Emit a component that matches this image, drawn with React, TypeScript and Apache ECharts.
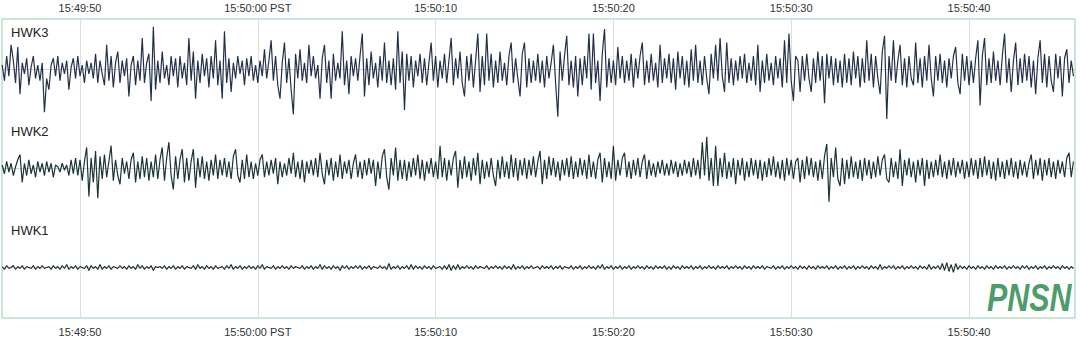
import React, { useEffect, useRef } from "react";
import * as echarts from "echarts";

// Time axis (seconds after 15:49:00 PST)
const T_MIN = 45.613;
const T_MAX = 105.962;
const T0 = 45.625;
const DT = 0.125;
const TICK_VALUES = [50, 60, 70, 80, 90, 100];
const TICK_LABELS = ["15:49:50", "15:50:00 PST", "15:50:10", "15:50:20", "15:50:30", "15:50:40"];

const STATIONS = ["HWK3", "HWK2", "HWK1"];

// HWK3 amplitudes (arbitrary counts)
const HWK3 = [
  10, -25, 30, -15, 55, 20, -30, 50, -55, 15, -10, 25, -35, 5, 30, -20, 10, -25, 15, -95,
  -20, -45, 10, 25, -15, 30, -25, 15, -10, 20, -45, 5, 25, -20, 30, -15, 10, -30, 20, -10,
  15, -20, 35, -30, 20, -10, -35, 55, -25, 30, -40, 15, 40, -30, 20, -15, 25, -60, 10, 30,
  -35, 20, -25, 70, -30, 15, 35, -70, 95, -45, 20, -30, 40, -20, 10, -35, 30, -15, 25, -40,
  30, -20, 15, -35, 70, -25, 40, -65, 20, -30, 35, -15, 25, -40, 30, -20, 65, -35, 20, -65,
  85, -30, 25, -50, 15, -20, 30, -10, 20, -35, 25, -15, 30, -25, 10, -30, 20, -15, 45, -20,
  20, 65, -25, 30, -35, -65, 15, 60, -30, 25, -45, -100, 35, -20, 45, -25, 15, -30, 55, -15,
  30, -20, 10, -65, 25, 55, -30, 20, -65, 35, -25, 15, -20, 85, -35, 20, -55, 30, -15, 25,
  -25, 30, 80, -60, 25, -35, 40, -20, 15, -40, 30, -25, 60, -30, 20, -35, 25, -45, 85, -30,
  40, -90, 35, -25, 30, -40, 20, -15, 35, -30, 25, -35, 15, 60, -25, 30, -40, 20, -20, 35,
  -30, 20, 70, -35, 25, -20, 40, -30, -60, 30, -25, 35, -40, 20, 80, -50, 30, -35, 80, -25,
  35, -40, 20, -30, 40, -25, 15, -35, 30, 60, -30, 25, -20, -60, 35, 60, -40, 25, -30, 20,
  -25, 35, -30, 20, -40, 30, -20, 15, 55, -30, -105, 40, -25, 30, 75, -35, 20, -40, 30, -60,
  25, -35, 30, -20, 80, -45, 80, -30, 20, -70, 35, 90, -40, 25, -30, 20, -35, 50, -20, 30,
  -30, 20, -25, 35, -40, 25, -20, 30, 60, -35, 20, -30, 35, -25, 15, -40, 55, -30, 25, -20,
  35, -30, 25, -45, 40, -20, 30, -35, 20, -40, 45, -25, 55, -30, 20, -35, 30, -20, -55, 35,
  -20, 55, -25, 70, -15, -50, 60, -30, 25, -35, 20, -25, 30, -20, 35, -30, 15, -25, 30, -35,
  55, -50, 20, -30, 35, -25, 15, -35, 30, -20, 25, -40, 65, -30, 80, -25, -70, 30, 20, -50,
  30, -25, 35, -20, -50, 25, -30, 40, -25, 30, -75, 35, -20, 30, -35, 25, -30, 20, -40, 35,
  -30, 25, -35, 40, -20, 30, -40, 25, -30, 65, -25, 35, -40, 30, -20, -55, 40, 75, -110, 30,
  -25, 65, -30, 20, 55, -35, 25, -40, 30, -20, -35, 60, -30, 25, -40, 30, -25, 55, -20, -60,
  30, -25, 35, -30, 20, -40, 25, -20, 30, 50, -30, -55, 35, -25, 30, -35, 20, -30, 25, 65,
  -80, 30, 70, -35, 25, -30, 40, -25, 20, -35, 30, 80, -30, 25, -50, 20, 60, -35, 25, -30,
  35, -25, 30, -40, 20, -55, 25, 65, -30, 35, -40, 30, -25, -50, 35, -20, 30, -60, 25, 45,
  -30, 20, -15,
];

// HWK2 amplitudes (arbitrary counts)
const HWK2 = [
  10, -15, 20, -10, 15, -20, 5, 25, 40, -40, 15, -20, 25, -15, 10, -25, 20, -10, 15, -20,
  20, -10, 15, -25, 10, 5, -10, 15, -5, 10, -20, 25, -15, 30, -20, 25, -35, 20, 60, -80,
  30, -40, 50, -85, 35, -30, 40, -25, 20, 65, -35, 25, -20, -45, 30, -15, 20, -30, 25, 45,
  -40, 20, -30, 35, -25, 30, -35, 20, -25, 40, -30, 25, 60, -35, 30, 75, -20, -60, 35, -30,
  25, 55, -40, 30, -35, 20, 55, -55, 30, -25, 35, -30, 20, -35, 25, -20, 40, -30, 25, -20,
  30, -25, 20, -30, 35, 55, -20, -40, 25, -30, 40, -25, 20, -30, 15, -20, 25, 40, -25, 20,
  -20, 25, -15, 30, -45, 20, -25, 15, -20, 30, -15, 45, -25, 20, -30, 25, -40, 20, -15, 25,
  -20, 30, -25, 45, -15, -45, 25, -20, 30, -35, 20, -25, 40, -30, 20, -15, 25, -30, 15, 40,
  -25, 20, -30, 25, -20, 30, -15, 25, -50, 20, -30, 35, 55, -25, -60, 30, -20, 60, -35, 25,
  -30, 25, -35, 20, -25, 30, -20, 40, -30, 25, -35, 20, -15, 30, -25, 20, -30, 65, -25, 30,
  -35, 25, -20, 30, 50, -55, 25, -30, 35, -25, 20, -35, 30, -20, 45, -45, 25, -30, 20, -25,
  30, -20, -50, 25, -30, 35, -25, 20, -30, 40, -25, 30, -35, 25, -20, 30, -30, 25, -20, 35,
  -25, 20, 50, -45, 25, -30, 35, -20, 30, -25, 20, -35, 25, -20, 30, -25, 35, -30, 20, -25,
  30, -20, 25, -30, 40, -25, 20, -30, 25, 45, -40, 30, -25, 20, -30, 65, -35, 25, -20, 30,
  45, -25, 20, -30, 25, -20, 30, -25, 20, 40, -30, 25, -20, 15, -25, 20, -15, 25, -20, 15,
  -20, 25, -15, 20, -25, 15, -20, 25, -15, 20, -25, 30, -20, 25, -30, 75, -20, 90, -35, 30,
  -50, 65, -50, 30, -25, 45, -30, 20, -25, 30, -45, 25, -20, 30, -35, 20, -25, 30, -20, 25,
  -30, 25, -35, 20, -25, 30, -20, 35, -25, 20, -30, 25, -35, 30, -20, 25, -30, 20, 30, -40,
  25, -30, 35, -20, 30, -25, 20, -35, 25, -30, 35, 70, -95, 30, -25, 60, -30, -50, 30, -45,
  25, -30, 35, -25, 20, -30, 25, -35, 30, -20, 25, -30, 20, -25, 35, -20, 25, 40, -30, -40,
  30, -25, 20, -30, 55, -50, 25, -20, 30, -25, 20, -40, 25, -20, 30, -50, 25, -30, 20, -25,
  25, -20, 40, -25, 20, -30, 25, -20, 30, -25, 20, -15, 25, -30, 20, -25, 30, -20, 25, -30,
  30, -25, 35, -20, 25, -30, 20, -35, 30, -25, 20, -30, 25, -20, 30, -25, 20, -30, 25, -20,
  20, -25, 15, 40, -30, 25, -20, 30, -35, 25, -20, 30, -25, 20, -30, 25, -15, 20, -25, 30,
  45, -25, 20,
];

// HWK1 amplitudes (arbitrary counts)
const HWK1 = [
  1, -2, 2, -1, 0, 2, -2, 1, -1, 2, -2, 1, 0, -1, 2, -2, 1, -1, 2, -1,
  0, 1, -2, 2, -1, 1, -2, 2, -1, 3, -2, 1, -1, 2, -2, 1, 0, -1, 2, -3,
  2, -1, 1, -2, 3, -2, 1, -1, 2, -2, 1, 0, -1, 2, -1, 1, -2, 2, -1, 1,
  -2, 3, -1, 2, -2, 1, -1, 2, -3, 1, 0, 1, -1, 2, -2, 1, -1, 2, -2, 1,
  -1, 2, -2, 1, 0, -1, 2, -2, 3, -1, 1, -2, 2, -1, 1, -2, 2, -1, 0, 1,
  -2, 2, -1, 3, -2, 1, -1, 2, -2, 1, -1, 2, -1, 1, -2, 2, -1, 3, -2, 1,
  0, -1, 2, -2, 1, -1, 2, -1, 1, -2, 2, -1, 1, 0, -1, 2, -2, 1, -1, 2,
  -2, 1, -1, 3, -2, 2, -1, 1, -2, 2, -1, 1, -3, 2, -1, 2, -2, 1, -1, 2,
  -1, 2, -2, 1, -1, 2, -2, 1, 0, -1, 2, -1, 1, -2, 4, -2, 1, -1, 2, -2,
  1, -1, 2, -2, 3, -2, 2, -1, 1, -2, 2, -1, 1, -2, 2, -1, 0, 1, -2, 2,
  -2, 3, -3, 2, -2, 3, -2, 1, -1, 2, -1, 1, -2, 2, -1, 1, 0, -1, 2, -2,
  1, -1, 2, -1, 1, -2, 2, -1, 1, -2, 3, -2, 1, -1, 2, -2, 1, -1, 2, -1,
  0, 1, -2, 2, -1, 1, -1, 2, -2, 1, -1, 2, -2, 1, 0, -1, 2, -2, 1, -1,
  2, -2, 1, -1, 2, -1, 1, -2, 2, -1, 3, -2, 1, -1, 2, -2, 1, -1, 2, -2,
  1, -1, 2, -2, 1, -1, 2, -1, 1, -2, 2, -1, 1, -2, 2, -1, 1, -1, 2, -2,
  1, -2, 2, -1, 1, -2, 2, -1, 1, -1, 2, -2, 1, -1, 2, -2, 1, -1, 2, -1,
  1, -2, 2, -1, 1, -1, 2, -2, 1, -1, 2, -1, 1, -2, 2, -1, 1, -2, 2, -1,
  1, -1, 2, -2, 1, 0, -1, 2, -2, 1, -1, 2, -2, 1, -1, 2, -1, 1, -2, 2,
  -1, 1, -2, 2, -1, 1, -2, 2, -1, 1, -1, 2, -2, 1, -1, 2, -2, 1, -1, 2,
  -2, 1, -1, 2, -2, 1, -1, 2, -1, 1, -2, 2, -1, 1, -2, 3, -2, 1, -1, 2,
  -1, 2, -2, 1, -1, 2, -2, 1, -1, 2, -1, 1, -2, 2, -1, 1, -2, 3, -2, 1,
  -1, 2, -2, 4, -3, 5, -4, 3, -5, 4, -2, 2, -1, 1, -2, 2, -1, 1, -2, 2,
  -1, 1, -2, 2, -1, 1, -2, 2, -1, 1, -1, 2, -2, 1, -1, 2, -1, 1, -2, 2,
  -1, 2, -2, 1, -1, 2, -2, 1, -1, 2, -2, 1, -1, 2, -1, 1, -2, 2, -1, 1,
  -2, 1, -1,
];

const TRACES = [HWK3, HWK2, HWK1];
const HALF_RANGES = [110, 141, 50];
const TRACE_COLORS = ["#223149", "#1b3434", "#1a2a2a"];
const TRACE_WIDTHS = [1.2, 1.2, 1.1];

const FONT = "'Liberation Sans', Arial, sans-serif";

export default function App() {
  const ref = useRef<HTMLDivElement>(null);

  useEffect(() => {
    if (!ref.current) return;
    const chart = echarts.init(ref.current, undefined, { renderer: "svg" });

    const plotLeft = 2;
    const plotTop = 19;
    const plotW = 1073;
    const plotH = 299;
    const bandH = (plotH - 2) / 3;

    const fmt = (v: number) => {
      const i = TICK_VALUES.findIndex((t) => Math.abs(t - v) < 1e-6);
      return i >= 0 ? TICK_LABELS[i] : "";
    };

    const grids: any[] = [
      {
        left: plotLeft,
        top: plotTop,
        width: plotW,
        height: plotH,
        show: true,
        borderColor: "#93cfa8",
        borderWidth: 1,
        backgroundColor: "transparent",
      },
    ];
    const xAxes: any[] = [
      {
        gridIndex: 0,
        type: "value",
        position: "bottom",
        min: T_MIN,
        max: T_MAX,
        axisLine: { show: false },
        axisTick: { show: false, customValues: TICK_VALUES },
        axisLabel: {
          customValues: TICK_VALUES,
          formatter: fmt,
          fontSize: 11,
          color: "#333",
          fontFamily: FONT,
          margin: 8,
        },
        splitLine: { show: true, lineStyle: { color: "#dedede", width: 1 } },
      },
      {
        gridIndex: 0,
        type: "value",
        position: "top",
        min: T_MIN,
        max: T_MAX,
        axisLine: { show: false },
        axisTick: { show: false, customValues: TICK_VALUES },
        axisLabel: {
          customValues: TICK_VALUES,
          formatter: fmt,
          fontSize: 11,
          color: "#333",
          fontFamily: FONT,
          margin: 6,
        },
        splitLine: { show: false },
      },
    ];
    const yAxes: any[] = [{ gridIndex: 0, type: "value", min: 0, max: 1, show: false }];
    const series: any[] = [];
    const graphics: any[] = [];

    TRACES.forEach((tr, k) => {
      const g = k + 1;
      const top = plotTop + 1 + k * bandH;
      grids.push({ left: plotLeft, top, width: plotW, height: bandH });
      xAxes.push({
        gridIndex: g,
        type: "value",
        min: T_MIN,
        max: T_MAX,
        axisLine: { show: true, onZero: true, lineStyle: { color: "#d4d4d4", width: 1 } },
        axisTick: { show: false },
        axisLabel: { show: false },
        splitLine: { show: false },
      });
      yAxes.push({
        gridIndex: g,
        type: "value",
        min: -HALF_RANGES[k],
        max: HALF_RANGES[k],
        axisLine: { show: false },
        axisTick: { show: false },
        axisLabel: { show: false },
        splitLine: { show: false },
      });
      series.push({
        name: STATIONS[k],
        type: "line",
        xAxisIndex: g + 1,
        yAxisIndex: g,
        showSymbol: false,
        symbol: "none",
        lineStyle: { color: TRACE_COLORS[k], width: TRACE_WIDTHS[k] },
        data: tr.map((v, i) => [T0 + i * DT, v]),
        silent: true,
      });
      graphics.push({
        type: "text",
        left: 11,
        top: top + 6,
        style: { text: STATIONS[k], fontSize: 13, fill: "#222", fontFamily: FONT },
      });
    });

    graphics.push({
      type: "text",
      x: 987,
      y: 278,
      scaleX: 0.78,
      style: {
        text: "PNSN",
        fontSize: 39,
        fontStyle: "italic",
        fontWeight: "bold",
        fill: "#4f9b6c",
        fontFamily: FONT,
        verticalAlign: "top",
      },
    });

    chart.setOption({
      animation: false,
      backgroundColor: "#ffffff",
      grid: grids,
      xAxis: xAxes,
      yAxis: yAxes,
      series,
      graphic: graphics,
    });

    return () => chart.dispose();
  }, []);

  return (
    <div
      ref={ref}
      style={{ position: "absolute", left: 0, top: 0, width: 1080, height: 337, background: "#fff" }}
    />
  );
}
